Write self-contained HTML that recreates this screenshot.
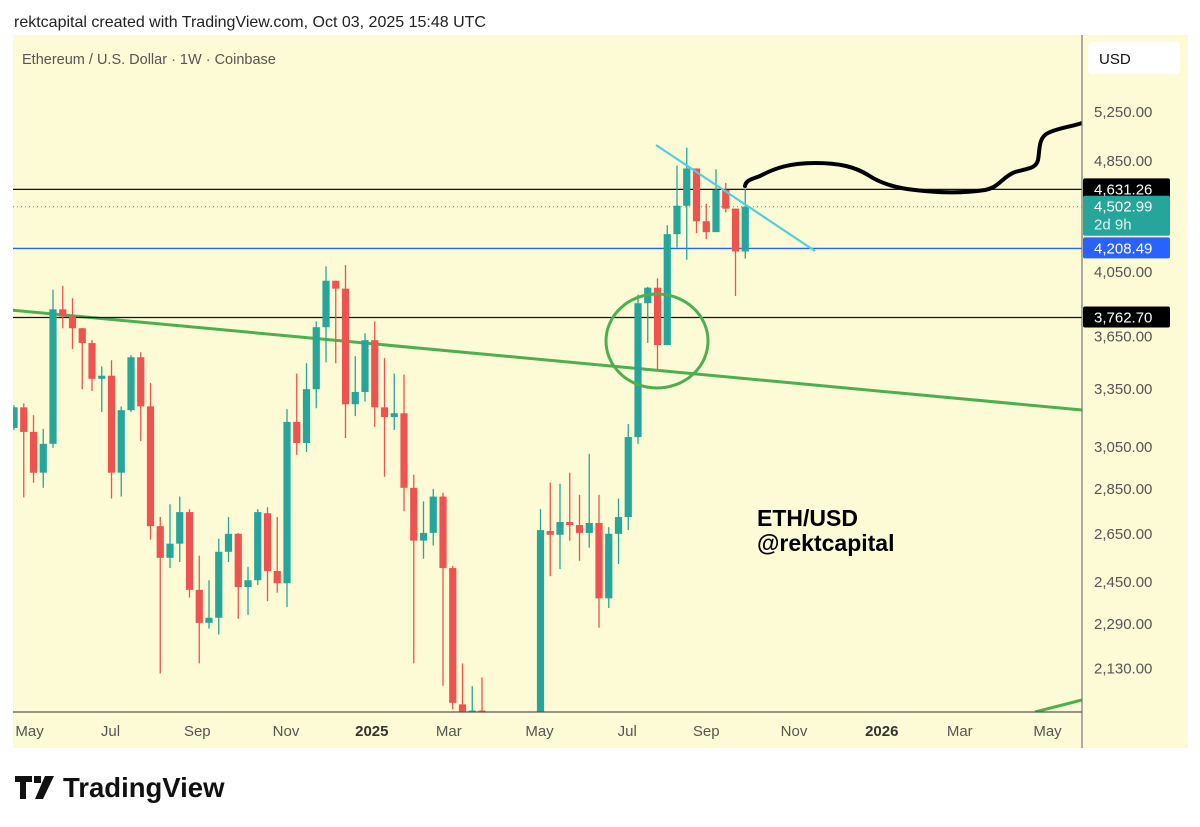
<!DOCTYPE html>
<html><head><meta charset="utf-8"><style>
html,body{margin:0;padding:0;background:#fff;width:1200px;height:827px;overflow:hidden}
svg{display:block;font-family:"Liberation Sans",sans-serif}
</style></head><body>
<svg id="chart" width="1200" height="827" viewBox="0 0 1200 827">
<rect x="0" y="0" width="1200" height="827" fill="#fff"/>
<text x="14" y="27" font-size="16" fill="#222">rektcapital created with TradingView.com, Oct 03, 2025 15:48 UTC</text>
<rect x="13" y="35" width="1175" height="713" fill="#fdfbd5"/>
<g id="plot"></g>
<line x1="1082" y1="35" x2="1082" y2="748" stroke="#777" stroke-width="1.2"/>
<line x1="13" y1="712" x2="1082" y2="712" stroke="#555" stroke-width="1.2"/>
<text x="22" y="64" font-size="14.5" fill="#555">Ethereum / U.S. Dollar · 1W · Coinbase</text>
<rect x="1088" y="42" width="92" height="32" rx="4" fill="#fff"/>
<text x="1099" y="64" font-size="15" fill="#111">USD</text>
<g id="yaxis"></g>
<g id="xaxis"></g>
<text x="757" y="526" font-size="23" font-weight="bold" fill="#000">ETH/USD</text>
<text x="757" y="551" font-size="23" font-weight="bold" fill="#000">@rektcapital</text>
<g>
<path d="M15 776h17v6h-6v17h-6v-17h-5z M34 776h7v7h-7z M45 776h9l-11 23h-8z" fill="#111"/>
<text x="63" y="797" font-size="27.5" font-weight="bold" fill="#111">TradingView</text>
</g>
</svg>
<script>
const opens=[3146,3253,3126,2926,3066,3813,3770,3698,3610,3407,3424,2926,3238,3528,3258,2683,2549,2608,2745,2420,2294,2313,2574,2650,2431,2458,2740,2495,2446,3177,3070,3350,3704,3994,3943,3269,3335,3627,3253,3202,3222,2855,2621,2654,2815,2507,2010,1890,1990,1800,1580,1620,1770,1820,1810,2662,2646,2701,2688,2654,2697,2387,2650,2723,3100,3851,3949,3598,4307,4510,4791,4398,4321,4628,4489,4188];
const highs=[3264,3274,3212,3141,3936,3961,3882,3700,3627,3476,3511,3258,3540,3557,3384,2723,2780,2815,2758,2558,2458,2629,2723,2654,2512,2758,2767,2723,3243,3436,3494,3739,4088,3994,4096,3534,3668,3739,3523,3436,3430,2917,2793,2850,2833,2516,2148,2070,2100,1850,1690,1800,1860,1880,2758,2879,2874,2926,2823,3017,2823,2679,2806,3166,3905,3955,4010,4370,4813,4955,4791,4525,4784,4680,4489,4635];
const lows=[3136,2811,2879,2855,3046,3698,3575,3350,3340,3228,2806,2815,3228,3080,2625,2113,2507,2532,2390,2148,2273,2251,2532,2309,2324,2439,2376,2409,2353,3012,3026,3248,3499,3494,3095,3207,3284,3151,2907,3136,2749,2148,2545,2600,2072,1994,1750,1820,1770,1420,1500,1570,1740,1760,1760,2474,2503,2621,2537,2591,2276,2350,2524,2666,3066,3610,3458,3598,4215,4132,4314,4272,4328,4461,3896,4140];
const closes=[3253,3126,2926,3066,3813,3770,3698,3610,3407,3424,2926,3238,3528,3258,2683,2549,2608,2745,2420,2294,2313,2574,2650,2431,2458,2745,2495,2446,3177,3070,3350,3704,3994,3943,3269,3335,3627,3253,3202,3222,2855,2621,2654,2815,2507,2015,1900,1990,1800,1580,1620,1770,1820,1810,2666,2646,2701,2688,2654,2697,2387,2650,2723,3100,3851,3949,3598,4307,4510,4791,4398,4321,4628,4489,4188,4503];
const priceTicks=[5250,4850,4050,3650,3350,3050,2850,2650,2450,2290,2130];
const priceTickLabels=["5,250.00","4,850.00","4,050.00","3,650.00","3,350.00","3,050.00","2,850.00","2,650.00","2,450.00","2,290.00","2,130.00"];
const timeLabels=["May","Jul","Sep","Nov","2025","Mar","May","Jul","Sep","Nov","2026","Mar","May"];
const timeLabelWeeks=[1.6,9.9,18.8,27.9,36.7,44.6,53.9,62.9,71,80,89,97,106];
const levels=[4631.26,4208.49,3762.70];
const currentPrice=4502.99;

const NS="http://www.w3.org/2000/svg";
function y(p){return 112+(Math.log(5250)-Math.log(p))*617;}
function x(i){return 14+i*9.75;}
function mk(tag,attrs,parent){const e=document.createElementNS(NS,tag);for(const k in attrs)e.setAttribute(k,attrs[k]);parent.appendChild(e);return e;}
const plot=document.getElementById('plot');
const clip=mk('clipPath',{id:'pc'},plot);
mk('rect',{x:13,y:35,width:1069,height:677},clip);
const g=mk('g',{'clip-path':'url(#pc)'},plot);

let tl=mk('line',{x1:0,y1:309,x2:1082,y2:410,stroke:'#4caf50','stroke-width':3},g);


let tl2=mk('line',{x1:1035,y1:712,x2:1082,y2:700,stroke:'#4caf50','stroke-width':3},g);


const lvlColors=['#111','#2962ff','#111'];
levels.forEach((p,i)=>{
  const l=mk('line',{x1:13,y1:y(p),x2:1082,y2:y(p),stroke:lvlColors[i],'stroke-width':1.3},g);
  
  
});
const cp=mk('line',{x1:13,y1:y(currentPrice),x2:1082,y2:y(currentPrice),stroke:'#26a69a','stroke-width':1,'stroke-dasharray':'1 3'},g);



for(let i=0;i<opens.length;i++){
  const up=closes[i]>=opens[i];const col=up?'#26a69a':'#ef5350';
  const cx=x(i);
  const w=mk('line',{x1:cx,x2:cx,y1:y(highs[i]),y2:y(lows[i]),stroke:col,'stroke-width':1.3},g);
  
  
  const top=y(Math.max(opens[i],closes[i])),bot=y(Math.min(opens[i],closes[i]));
  const b=mk('rect',{x:cx-3.6,y:top,width:7.2,height:Math.max(1.5,bot-top),fill:col},g);
  
  
}
let cy=mk('line',{x1:656,y1:145,x2:815,y2:251,stroke:'#4dd0e1','stroke-width':2.2},g);


let ci=mk('ellipse',{cx:657,cy:341,rx:51,ry:47,fill:'none',stroke:'#4caf50','stroke-width':3},g);


let fh=mk('path',{d:'M745 186 C746 180 752 179 760 176 C775 168 790 163 815 163 C840 163 855 167 868 175 C880 183 895 188 915 190 C940 193 965 193 985 190 C1000 187 1002 177 1015 172 C1030 168 1036 168 1038 160 C1040 150 1038 138 1048 133 C1058 128 1070 127 1082 123',fill:'none',stroke:'#000','stroke-width':4,'stroke-linecap':'round'},g);



const ya=document.getElementById('yaxis');
priceTicks.forEach((p,i)=>{
  const t=mk('text',{x:1094,y:y(p)+5,'font-size':15,fill:'#555'},ya);
  t.textContent=priceTickLabels[i];
  
  
});
const tagCols=['#000','#2962ff','#000'];
levels.forEach((p,i)=>{
  const r=mk('rect',{x:1083,y:y(p)-11,width:87,height:21,rx:2,fill:tagCols[i]},ya);
  
  
  const t=mk('text',{x:1094,y:y(p)+5,'font-size':15,fill:'#fff'},ya);
  t.textContent=p.toLocaleString('en-US',{minimumFractionDigits:2});
  
  
});
const cr=mk('rect',{x:1083,y:y(currentPrice)-11,width:87,height:40,rx:2,fill:'#26a69a'},ya);


const ct=mk('text',{x:1094,y:y(currentPrice)+5,'font-size':15,fill:'#fff'},ya);
ct.textContent=currentPrice.toLocaleString('en-US',{minimumFractionDigits:2});


const cd=mk('text',{x:1094,y:y(currentPrice)+23,'font-size':15,fill:'#e0f2f1'},ya);
cd.textContent='2d 9h';



const xa=document.getElementById('xaxis');
timeLabels.forEach((s,i)=>{
  const yr=/^\d+$/.test(s);
  const t=mk('text',{x:x(timeLabelWeeks[i]),y:736,'font-size':15,fill:yr?'#333':'#555','font-weight':yr?'bold':'normal','text-anchor':'middle'},xa);
  t.textContent=s;
  
  
});
</script>
</body></html>
